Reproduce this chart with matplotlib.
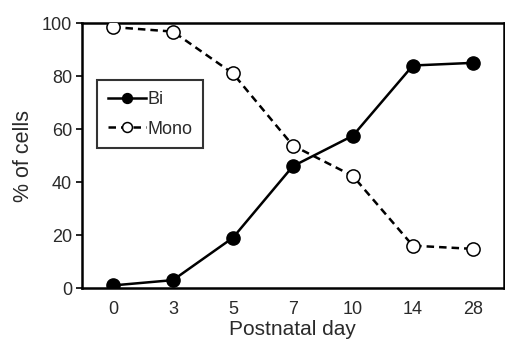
import matplotlib
matplotlib.use("Agg")
import matplotlib.pyplot as plt

plt.rcParams['font.family'] = ['Liberation Sans', 'DejaVu Sans']

days = ["0", "3", "5", "7", "10", "14", "28"]
bi = [1, 3, 19, 46, 57.5, 84, 85]
mono = [98.5, 96.8, 81, 53.8, 42.3, 16, 14.8]

fig = plt.figure(figsize=(5.05, 3.45), dpi=100)
ax = fig.add_axes([0.162, 0.165, 0.836, 0.768])
x = list(range(len(days)))
ax.plot(x, bi, '-', color='black', lw=1.8, marker='o', ms=9.5,
        mfc='black', mec='black', label='Bi', zorder=3)
ax.plot(x, mono, '--', color='black', lw=1.8, marker='o', ms=9.5,
        mfc='white', mec='black', mew=1.1, label='Mono', dashes=(3, 2), zorder=3)
ax.set_xlim(-0.52, 6.52)
ax.set_ylim(0, 100)
ax.set_xticks(x)
ax.set_xticklabels(days)
ax.set_yticks([0, 20, 40, 60, 80, 100])
ax.tick_params(axis='x', length=0, labelsize=13, pad=9, labelcolor='#2a2a2a')
ax.tick_params(axis='y', length=4, width=1.2, labelsize=13, pad=3, labelcolor='#2a2a2a')
for s in ax.spines.values():
    s.set_linewidth(1.8)
ax.set_xlabel('Postnatal day', fontsize=15, color='#2a2a2a', labelpad=2)
ax.set_ylabel('% of cells', fontsize=15.5, color='#2a2a2a', labelpad=6)
leg = ax.legend(loc='upper left', bbox_to_anchor=(0.036, 0.785), frameon=True,
                fancybox=False, edgecolor='black', fontsize=13,
                handlelength=2.1, handletextpad=0.1, borderpad=0.6,
                labelspacing=0.7, borderaxespad=0, markerscale=0.75)
leg.get_frame().set_linewidth(1.5)
for t in leg.get_texts():
    t.set_color('#2a2a2a')
fig.savefig('out.png', dpi=100)
